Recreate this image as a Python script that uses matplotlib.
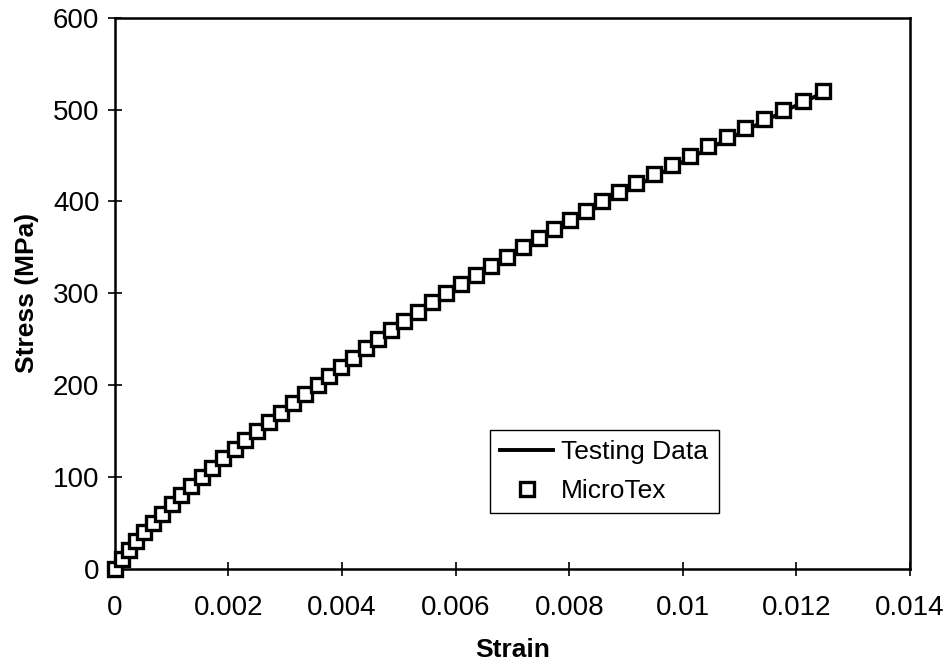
import numpy as np
import matplotlib
matplotlib.use("Agg")
import matplotlib.pyplot as plt

plt.rcParams['font.family'] = ['Liberation Sans', 'DejaVu Sans']

# MicroTex prediction (open squares)
microtex_stress = [0, 10, 20, 30, 40, 50, 60, 70, 80, 90,
                   100, 110, 120, 130, 140, 150, 160, 170, 180, 190,
                   200, 210, 220, 230, 240, 250, 260, 270, 280, 290,
                   300, 310, 320, 330, 340, 350, 360, 370, 380, 390,
                   400, 410, 420, 430, 440, 450, 460, 470, 480, 490,
                   500, 510, 520]
microtex_strain = [0, 0.00012, 0.00025, 0.00038, 0.00052, 0.00067, 0.00083, 0.00100, 0.00117, 0.00135,
                   0.00153, 0.00172, 0.00191, 0.00211, 0.00230, 0.00250, 0.00271, 0.00292, 0.00313, 0.00335,
                   0.00357, 0.00378, 0.00399, 0.00420, 0.00442, 0.00464, 0.00487, 0.00510, 0.00534, 0.00558,
                   0.00583, 0.00609, 0.00636, 0.00663, 0.00690, 0.00718, 0.00746, 0.00774, 0.00802, 0.00830,
                   0.00858, 0.00888, 0.00918, 0.00949, 0.00981, 0.01013, 0.01045, 0.01077, 0.01110, 0.01143,
                   0.01177, 0.01212, 0.01247]

# testing data (solid line)
test_stress = [0, 50, 100, 150, 200, 250, 300, 350, 400, 450, 500, 520]
test_strain = [0, 0.00070, 0.00158, 0.00257, 0.00365, 0.00471, 0.00590, 0.00725, 0.00865, 0.01021, 0.01184, 0.01252]

fig = plt.figure(figsize=(9.48, 6.65), dpi=100)
ax = fig.add_axes([0.121, 0.145, 0.839, 0.828])

ax.plot(test_strain, test_stress, color='black', lw=2.8, label='Testing Data', zorder=2)
ax.plot(microtex_strain, microtex_stress, ls='none', marker='s', ms=10.5, mew=2.4,
        mfc='white', mec='black', label='MicroTex', zorder=3, clip_on=False)

ax.set_xlim(0, 0.014)
ax.set_ylim(0, 600)
ax.set_xticks(np.arange(0, 0.0141, 0.002))
ax.set_xticklabels(['0', '0.002', '0.004', '0.006', '0.008', '0.01', '0.012', '0.014'])
ax.set_yticks(np.arange(0, 601, 100))

for s in ax.spines.values():
    s.set_linewidth(1.8)
ax.tick_params(direction='inout', length=10, width=1.2, labelsize=20)
ax.tick_params(axis='x', pad=14)
ax.tick_params(axis='y', pad=6)

ax.set_xlabel('Strain', fontsize=19, fontweight='bold', labelpad=12)
ax.set_ylabel('Stress (MPa)', fontsize=19, fontweight='bold', labelpad=10)

leg = ax.legend(loc='upper left', bbox_to_anchor=(0.455, 0.276), fontsize=19,
                frameon=True, fancybox=False, edgecolor='black', framealpha=1,
                handlelength=2.0, handletextpad=0.3, borderpad=0.4, labelspacing=0.55)
leg.get_frame().set_linewidth(1.0)

fig.savefig('out.png', dpi=100)
